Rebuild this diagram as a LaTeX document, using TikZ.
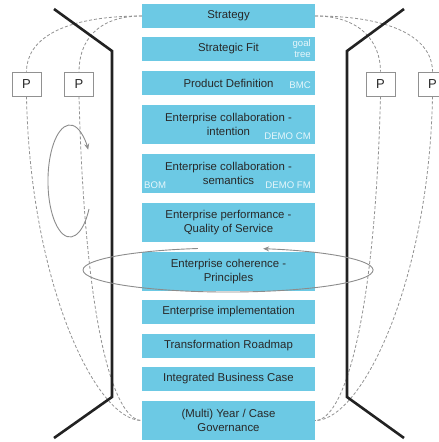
\documentclass[tikz,border=0pt]{standalone}
\usepackage{fontspec}
\setmainfont{Liberation Sans}
\usetikzlibrary{arrows.meta}
\definecolor{boxblue}{RGB}{108,201,228}
\definecolor{boxtext}{RGB}{40,40,40}
\definecolor{tagtext}{RGB}{230,246,251}
\definecolor{guide}{RGB}{145,145,145}
\definecolor{wall}{RGB}{34,34,34}
\definecolor{cyclegrey}{RGB}{140,140,140}
\begin{document}
\begin{tikzpicture}[x=1pt,y=-1pt,
  layer/.style={fill=boxblue, text=boxtext, minimum width=173pt, inner sep=0pt,
    align=center, font=\fontsize{11.4}{13.8}\selectfont},
  single/.style={layer, minimum height=24pt},
  double/.style={layer, minimum height=39pt},
  tag/.style={text=tagtext, inner sep=0pt, font=\fontsize{9.6}{11}\selectfont},
  pbox/.style={draw=guide, fill=white, text=boxtext, minimum width=29pt,
    minimum height=24pt, inner sep=0pt, font=\fontsize{13}{15}\selectfont, line width=0.7pt},
  trace/.style={draw=guide, dash pattern=on 3pt off 2pt, line width=0.8pt},
  wallline/.style={draw=wall, line width=2.6pt},
  cyc/.style={draw=cyclegrey, line width=0.9pt, -{Stealth[length=6pt,width=5pt]}}]

\useasboundingbox (0,0) rectangle (439,442);

% central stack of layers
\node[single] (s1)  at (228.5,16)    {Strategy};
\node[single] (s2)  at (228.5,49)    {Strategic Fit};
\node[single] (s3)  at (228.5,83)    {Product Definition};
\node[double] (s4)  at (228.5,124.5) {Enterprise collaboration -\\intention};
\node[double] (s5)  at (228.5,173.5) {Enterprise collaboration -\\semantics};
\node[double] (s6)  at (228.5,222.5) {Enterprise performance -\\Quality of Service};
\node[double] (s7)  at (228.5,271.5) {Enterprise coherence -\\Principles};
\node[single] (s8)  at (228.5,312)   {Enterprise implementation};
\node[single] (s9)  at (228.5,346)   {Transformation Roadmap};
\node[single] (s10) at (228.5,379)   {Integrated Business Case};
\node[double] (s11) at (228.5,420.5) {(Multi) Year / Case\\Governance};

% model tags inside the layers
\node[tag, anchor=east, align=right] (t2) at (311,49) {goal\\tree};
\node[tag, anchor=east] (t3) at (311,85) {BMC};
\node[tag, anchor=east] (t4) at (311,136) {DEMO CM};
\node[tag, anchor=east] (t5) at (311,185) {DEMO FM};
\node[tag, anchor=west] (t5b) at (144,185) {BOM};

% P boxes on both sides
\node[pbox] (p1) at (26.5,84)  {P};
\node[pbox] (p2) at (79,84)    {P};
\node[pbox] (p3) at (380.5,84) {P};
\node[pbox] (p4) at (432.5,84) {P};

% dashed traces from Strategy through the P boxes to Governance
\draw[trace] (s1.west) .. controls +(-80,0) and +(0,-32) .. (p1.north);
\draw[trace] (s1.west) .. controls +(-45,0) and +(0,-30) .. (p2.north);
\draw[trace] (s1.east) .. controls +(45,0) and +(0,-30) .. (p3.north);
\draw[trace] (s1.east) .. controls +(80,0) and +(0,-32) .. (p4.north);
\draw[trace] (p1.south) .. controls +(3.5,184) and +(-47,0) .. (s11.west);
\draw[trace] (p2.south) .. controls +(6,234) and +(-27,0) .. (s11.west);
\draw[trace] (p3.south) .. controls +(-6,234) and +(27,0) .. (s11.east);
\draw[trace] (p4.south) .. controls +(-3.5,184) and +(47,0) .. (s11.east);

% bent walls
\draw[wallline] (54,9) -- (112,51) -- (112,397) -- (54,438);
\draw[wallline] (404,9) -- (347,51) -- (347,397) -- (404,438);

% cycle arrows
\draw[cyc] (89,209) arc[start angle=30, end angle=326, x radius=22, y radius=56];
\draw[cyc] (197.9,248.5) arc[start angle=258, end angle=-76, x radius=145, y radius=22];
\end{tikzpicture}
\end{document}
